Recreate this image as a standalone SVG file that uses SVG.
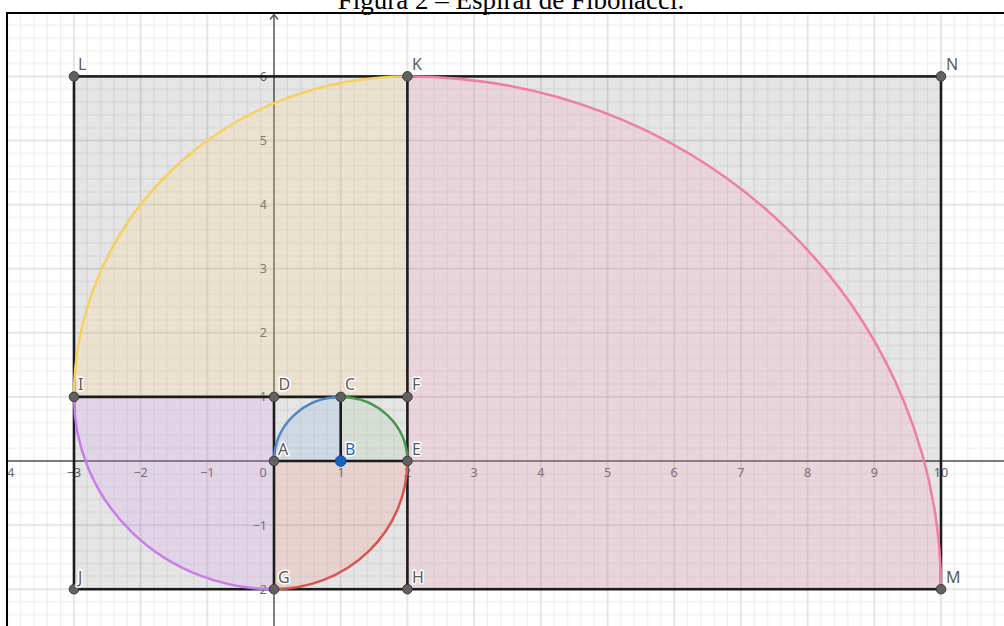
<svg xmlns="http://www.w3.org/2000/svg" width="1004" height="626" viewBox="0 0 1004 626">
<style>
.seg{stroke:#1c1c1c;stroke-width:2.6;fill:none;stroke-linecap:round}
.arc{fill:none;stroke-width:2.5}
.pt{fill:#616161;stroke:#3c3c3c;stroke-width:1}
.lbl{font-family:"Noto Sans","Open Sans","Liberation Sans",sans-serif;font-size:16px;fill:#5a5a5a;stroke:#fff;stroke-width:3;stroke-linejoin:round;paint-order:stroke}
.tick{font-family:"Noto Sans","Open Sans","Liberation Sans",sans-serif;font-size:12.5px;fill:#666}
.tx{text-anchor:middle}
.ty{text-anchor:end}
.axis{stroke:#555;stroke-width:1.4;fill:none}
</style>
<defs>
<pattern id="grid" patternUnits="userSpaceOnUse" x="274" y="461" width="66.7" height="64.1">
<path d="M13.34 0V64.1M26.68 0V64.1M40.02 0V64.1M53.36 0V64.1M0 12.82H66.7M0 25.64H66.7M0 38.46H66.7M0 51.28H66.7" stroke="#ebebeb" stroke-width="1"/>
<path d="M0 0V64.1M66.7 0V64.1M0 0H66.7M0 64.1H66.7" stroke="#cdcdcd" stroke-width="1"/>
</pattern>
<clipPath id="view"><rect x="8" y="14" width="1000" height="620"/></clipPath>
</defs>
<rect width="1004" height="626" fill="#fff"/>
<text x="511" y="8.5" font-family="Liberation Serif, serif" font-size="27" text-anchor="middle" fill="#000">Figura 2 – Espiral de Fibonacci.</text>
<g clip-path="url(#view)">
<rect x="8" y="14" width="1000" height="620" fill="url(#grid)"/>
<g id="axes">
<path class="axis" d="M274 14V626M8 461H1004"/>
<path class="axis" d="M270 19.5L274 14.5L278 19.5"/>
</g>
<g id="ticks">
<text class="tick tx" x="7.2" y="477">−4</text>
<text class="tick tx" x="74" y="477">−3</text>
<text class="tick tx" x="140.6" y="477">−2</text>
<text class="tick tx" x="207.3" y="477">−1</text>
<text class="tick tx" x="263" y="477">0</text>
<text class="tick tx" x="341" y="477">1</text>
<text class="tick tx" x="407.4" y="477">2</text>
<text class="tick tx" x="474.1" y="477">3</text>
<text class="tick tx" x="540.8" y="477">4</text>
<text class="tick tx" x="607.5" y="477">5</text>
<text class="tick tx" x="674.2" y="477">6</text>
<text class="tick tx" x="740.9" y="477">7</text>
<text class="tick tx" x="807.6" y="477">8</text>
<text class="tick tx" x="874.3" y="477">9</text>
<text class="tick tx" x="941" y="477">10</text>
<text class="tick ty" x="267" y="81">6</text>
<text class="tick ty" x="267" y="145">5</text>
<text class="tick ty" x="267" y="209.2">4</text>
<text class="tick ty" x="267" y="273.3">3</text>
<text class="tick ty" x="267" y="337.3">2</text>
<text class="tick ty" x="267" y="401.4">1</text>
<text class="tick ty" x="267" y="529.6">−1</text>
<text class="tick ty" x="267" y="593.7">−2</text>
</g>
</g>
<rect id="base" x="74" y="76.4" width="867" height="512.8" fill="#000" fill-opacity="0.1"/>
<g id="sectors" fill-opacity="0.25" stroke="none">
<path d="M340.7 461L274 461A66.7 64.1 0 0 1 340.7 396.9Z" fill="#8eb6de"/>
<path d="M340.7 461L340.7 396.9A66.7 64.1 0 0 1 407.4 461Z" fill="#aacaa6"/>
<path d="M274 461L407.4 461A133.4 128.2 0 0 1 274 589.2Z" fill="#ee9a8e"/>
<path d="M274 396.9L274 589.2A200.1 192.3 0 0 1 74 396.9Z" fill="#daa2ee"/>
<path d="M407.4 396.9L74 396.9A333.4 320.5 0 0 1 407.4 76.4Z" fill="#fad68e"/>
<path d="M407.4 589.2L407.4 76.4A533.6 512.8 0 0 1 941 589.2Z" fill="#f2a2ba"/>
</g>
<g id="segments">
<rect class="seg" x="74" y="76.4" width="867" height="512.8"/>
<path class="seg" d="M407.4 76.4V589.2M74 396.9H407.4M274 396.9V589.2M274 461H407.4M340.7 461V396.9"/>
</g>
<g id="arcs">
<path class="arc" stroke="#4f86c8" d="M274 461A66.7 64.1 0 0 1 340.7 396.9"/>
<path class="arc" stroke="#4a974a" d="M340.7 396.9A66.7 64.1 0 0 1 407.4 461"/>
<path class="arc" stroke="#d9534f" d="M407.4 461A133.4 128.2 0 0 1 274 589.2"/>
<path class="arc" stroke="#c97bec" d="M274 589.2A200.1 192.3 0 0 1 74 396.9"/>
<path class="arc" stroke="#f6d160" d="M74 396.9A333.4 320.5 0 0 1 407.4 76.4"/>
<path class="arc" stroke="#ef7ea0" d="M407.4 76.4A533.6 512.8 0 0 1 941 589.2"/>
</g>
<g id="L"><circle class="pt" cx="74" cy="76.4" r="4.8"/><text class="lbl" x="78" y="70">L</text></g>
<g id="K"><circle class="pt" cx="407.4" cy="76.4" r="4.8"/><text class="lbl" x="412" y="70">K</text></g>
<g id="N"><circle class="pt" cx="941" cy="76.4" r="4.8"/><text class="lbl" x="946" y="70">N</text></g>
<g id="I"><circle class="pt" cx="74" cy="396.9" r="4.8"/><text class="lbl" x="78" y="390">I</text></g>
<g id="D"><circle class="pt" cx="274" cy="396.9" r="4.8"/><text class="lbl" x="278.5" y="390">D</text></g>
<g id="C"><circle class="pt" cx="340.7" cy="396.9" r="4.8"/><text class="lbl" x="345" y="390">C</text></g>
<g id="F"><circle class="pt" cx="407.4" cy="396.9" r="4.8"/><text class="lbl" x="412" y="390">F</text></g>
<g id="A"><circle class="pt" cx="274" cy="461" r="4.8"/><text class="lbl" x="278" y="455">A</text></g>
<g id="B"><circle cx="340.7" cy="461" r="5.3" fill="#1565c0" stroke="#0d47a1" stroke-width="1"/><text class="lbl" x="345" y="455" style="fill:#1e63b5">B</text></g>
<g id="E"><circle class="pt" cx="407.4" cy="461" r="4.8"/><text class="lbl" x="412" y="455">E</text></g>
<g id="J"><circle class="pt" cx="74" cy="589.2" r="4.8"/><text class="lbl" x="78" y="583">J</text></g>
<g id="G"><circle class="pt" cx="274" cy="589.2" r="4.8"/><text class="lbl" x="278" y="583">G</text></g>
<g id="H"><circle class="pt" cx="407.4" cy="589.2" r="4.8"/><text class="lbl" x="412" y="583">H</text></g>
<g id="M"><circle class="pt" cx="941" cy="589.2" r="4.8"/><text class="lbl" x="946" y="583">M</text></g>
<path d="M7 626V13H1004" fill="none" stroke="#000" stroke-width="2"/>
</svg>
